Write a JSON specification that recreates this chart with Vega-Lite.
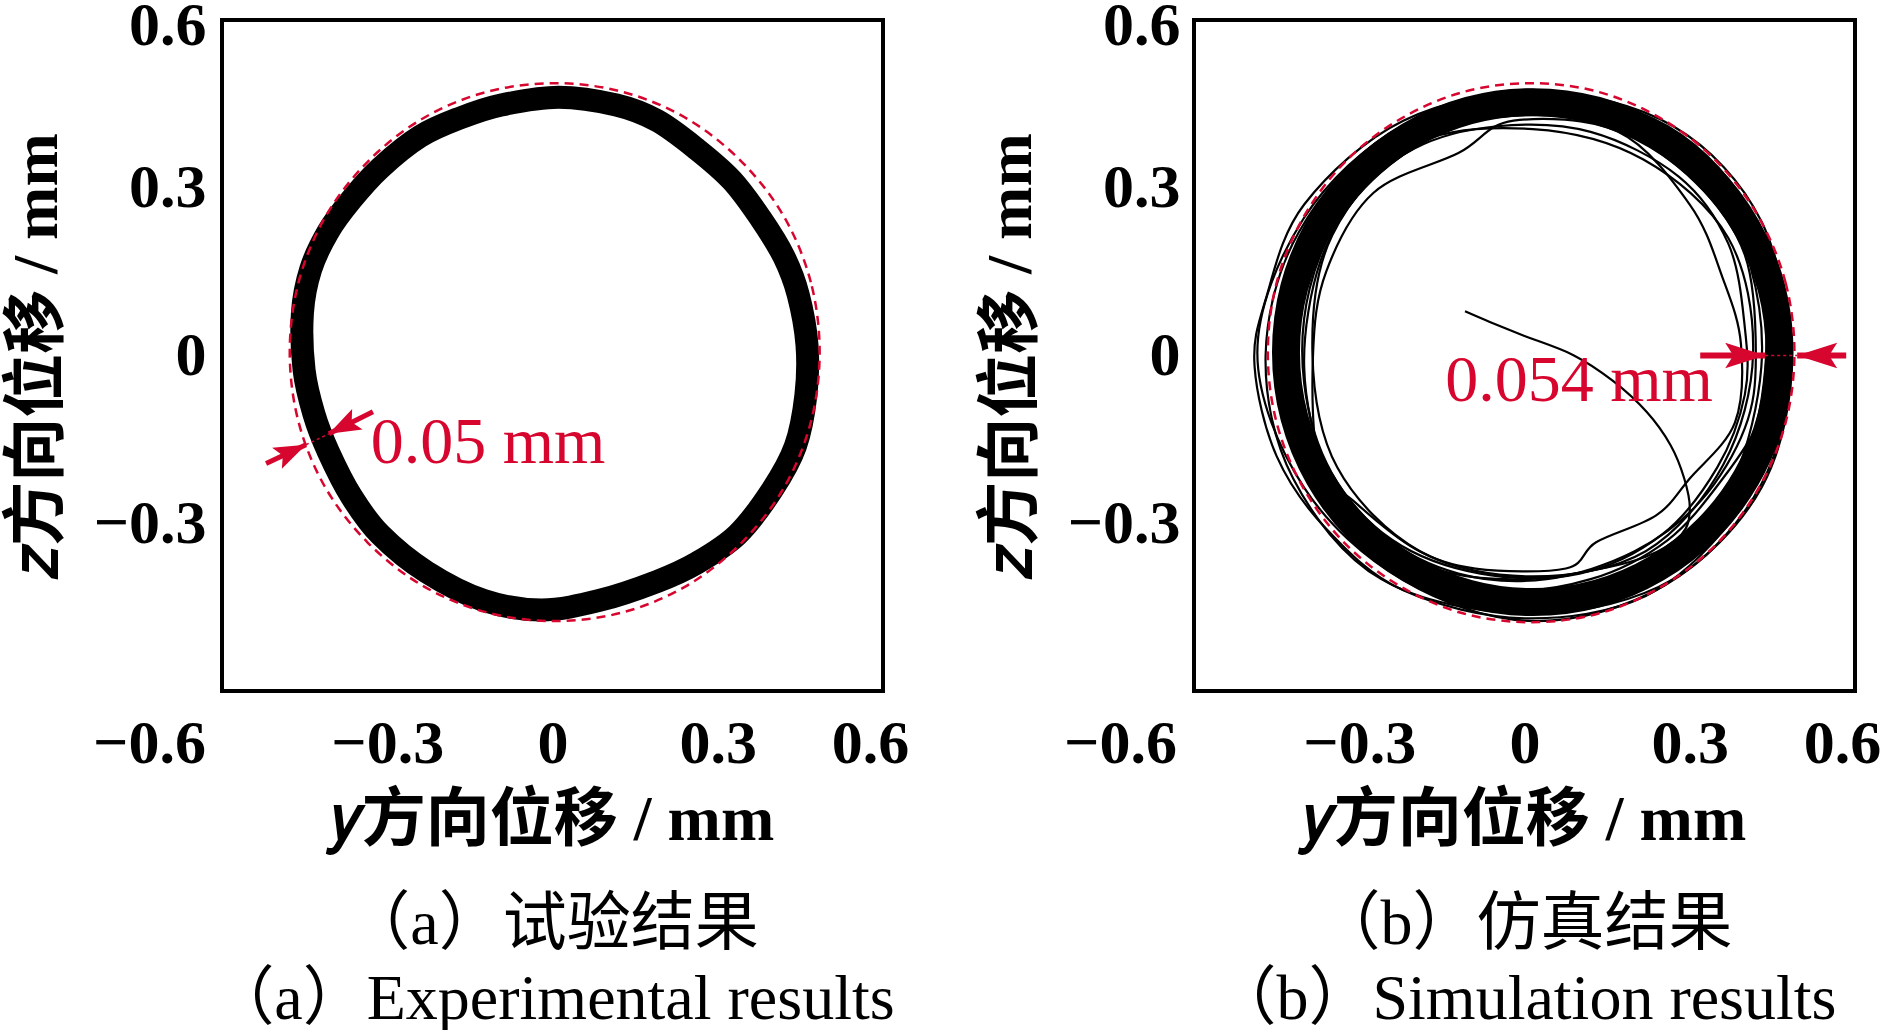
{
  "$schema": "https://vega.github.io/schema/vega-lite/v6.json",
  "background": "white",
  "padding": {"left": 3, "top": -8, "right": 0, "bottom": 0},
  "spacing": 66,
  "config": {
    "font": "Liberation Serif, DejaVu Serif, Noto Sans CJK SC",
    "view": {"stroke": "black", "strokeWidth": 4},
    "axis": {
      "grid": false, "ticks": false, "domain": false, "format": "~g",
      "labelFontSize": 62, "labelFontWeight": "bold", "labelColor": "black",
      "labelFlush": false, "labelOverlap": false,
      "titleFontSize": 64, "titleFontWeight": "bold", "titleColor": "black"
    },
    "title": {"fontSize": 64, "fontWeight": "normal", "color": "black", "lineHeight": 75, "offset": 41, "anchor": "middle", "orient": "bottom"}
  },
  "datasets": {
    "bandA": [
      {"o":1,"x":-0.454,"y":0.076},{"o":2,"x":-0.439,"y":0.154},{"o":3,"x":-0.407,"y":0.222},{"o":4,"x":-0.365,"y":0.279},
      {"o":5,"x":-0.313,"y":0.335},{"o":6,"x":-0.240,"y":0.392},{"o":7,"x":-0.167,"y":0.425},{"o":8,"x":-0.093,"y":0.448},
      {"o":9,"x":0.011,"y":0.462},{"o":10,"x":0.116,"y":0.448},{"o":11,"x":0.190,"y":0.420},{"o":12,"x":0.262,"y":0.369},
      {"o":13,"x":0.326,"y":0.313},{"o":14,"x":0.378,"y":0.245},{"o":15,"x":0.420,"y":0.177},{"o":16,"x":0.446,"y":0.109},
      {"o":17,"x":0.462,"y":0.019},{"o":18,"x":0.460,"y":-0.071},{"o":19,"x":0.441,"y":-0.162},{"o":20,"x":0.399,"y":-0.240},
      {"o":21,"x":0.336,"y":-0.320},{"o":22,"x":0.262,"y":-0.371},{"o":23,"x":0.190,"y":-0.404},{"o":24,"x":0.085,"y":-0.438},
      {"o":25,"x":-0.020,"y":-0.455},{"o":26,"x":-0.125,"y":-0.438},{"o":27,"x":-0.229,"y":-0.387},{"o":28,"x":-0.313,"y":-0.320},
      {"o":29,"x":-0.365,"y":-0.252},{"o":30,"x":-0.407,"y":-0.172},{"o":31,"x":-0.433,"y":-0.105},{"o":32,"x":-0.451,"y":-0.026}
    ],
    "circA": [
      {"o":1,"x":0.485,"y":0.006},{"o":2,"x":0.469,"y":0.131},{"o":3,"x":0.421,"y":0.247},{"o":4,"x":0.344,"y":0.346},
      {"o":5,"x":0.245,"y":0.423},{"o":6,"x":0.129,"y":0.471},{"o":7,"x":0.004,"y":0.487},{"o":8,"x":-0.121,"y":0.471},
      {"o":9,"x":-0.237,"y":0.423},{"o":10,"x":-0.336,"y":0.346},{"o":11,"x":-0.413,"y":0.247},{"o":12,"x":-0.461,"y":0.131},
      {"o":13,"x":-0.477,"y":0.006},{"o":14,"x":-0.461,"y":-0.119},{"o":15,"x":-0.413,"y":-0.235},{"o":16,"x":-0.336,"y":-0.334},
      {"o":17,"x":-0.237,"y":-0.411},{"o":18,"x":-0.121,"y":-0.459},{"o":19,"x":0.004,"y":-0.475},{"o":20,"x":0.129,"y":-0.459},
      {"o":21,"x":0.245,"y":-0.411},{"o":22,"x":0.344,"y":-0.334},{"o":23,"x":0.421,"y":-0.235},{"o":24,"x":0.469,"y":-0.119}
    ],
    "bandB": [
      {"o":1,"x":0.463,"y":0.006},{"o":2,"x":0.448,"y":0.122},{"o":3,"x":0.403,"y":0.230},{"o":4,"x":0.332,"y":0.322},
      {"o":5,"x":0.239,"y":0.393},{"o":6,"x":0.131,"y":0.438},{"o":7,"x":0.015,"y":0.453},{"o":8,"x":-0.101,"y":0.438},
      {"o":9,"x":-0.209,"y":0.393},{"o":10,"x":-0.302,"y":0.322},{"o":11,"x":-0.373,"y":0.230},{"o":12,"x":-0.418,"y":0.122},
      {"o":13,"x":-0.433,"y":0.006},{"o":14,"x":-0.418,"y":-0.110},{"o":15,"x":-0.373,"y":-0.218},{"o":16,"x":-0.302,"y":-0.310},
      {"o":17,"x":-0.209,"y":-0.381},{"o":18,"x":-0.101,"y":-0.426},{"o":19,"x":0.015,"y":-0.441},{"o":20,"x":0.131,"y":-0.426},
      {"o":21,"x":0.239,"y":-0.381},{"o":22,"x":0.332,"y":-0.310},{"o":23,"x":0.403,"y":-0.218},{"o":24,"x":0.448,"y":-0.110}
    ],
    "circB": [
      {"o":1,"x":0.490,"y":0.005},{"o":2,"x":0.474,"y":0.130},{"o":3,"x":0.426,"y":0.246},{"o":4,"x":0.350,"y":0.346},
      {"o":5,"x":0.251,"y":0.422},{"o":6,"x":0.136,"y":0.471},{"o":7,"x":0.012,"y":0.487},{"o":8,"x":-0.112,"y":0.471},
      {"o":9,"x":-0.227,"y":0.422},{"o":10,"x":-0.326,"y":0.346},{"o":11,"x":-0.402,"y":0.246},{"o":12,"x":-0.450,"y":0.130},
      {"o":13,"x":-0.466,"y":0.005},{"o":14,"x":-0.450,"y":-0.120},{"o":15,"x":-0.402,"y":-0.236},{"o":16,"x":-0.326,"y":-0.336},
      {"o":17,"x":-0.227,"y":-0.412},{"o":18,"x":-0.112,"y":-0.461},{"o":19,"x":0.012,"y":-0.477},{"o":20,"x":0.136,"y":-0.461},
      {"o":21,"x":0.251,"y":-0.412},{"o":22,"x":0.350,"y":-0.336},{"o":23,"x":0.426,"y":-0.236},{"o":24,"x":0.474,"y":-0.120}
    ],
    "thinB": [
      {"loop":"A","o":1,"x":0.485,"y":0.005},{"loop":"A","o":2,"x":0.422,"y":0.240},{"loop":"A","o":3,"x":0.245,"y":0.403},{"loop":"A","o":4,"x":0.015,"y":0.475},
      {"loop":"A","o":5,"x":-0.220,"y":0.412},{"loop":"A","o":6,"x":-0.401,"y":0.245},{"loop":"A","o":7,"x":-0.485,"y":0.005},{"loop":"A","o":8,"x":-0.401,"y":-0.235},
      {"loop":"A","o":9,"x":-0.220,"y":-0.402},{"loop":"A","o":10,"x":0.015,"y":-0.475},{"loop":"A","o":11,"x":0.255,"y":-0.411},{"loop":"A","o":12,"x":0.431,"y":-0.235},
      {"loop":"B","o":1,"x":0.415,"y":0.005},{"loop":"B","o":2,"x":0.370,"y":0.210},{"loop":"B","o":3,"x":0.215,"y":0.351},{"loop":"B","o":4,"x":0.015,"y":0.405},
      {"loop":"B","o":5,"x":-0.200,"y":0.377},{"loop":"B","o":6,"x":-0.349,"y":0.215},{"loop":"B","o":7,"x":-0.385,"y":0.005},{"loop":"B","o":8,"x":-0.340,"y":-0.200},
      {"loop":"B","o":9,"x":-0.190,"y":-0.350},{"loop":"B","o":10,"x":0.015,"y":-0.395},{"loop":"B","o":11,"x":0.220,"y":-0.350},{"loop":"B","o":12,"x":0.361,"y":-0.195},
      {"loop":"C","o":1,"x":0.393,"y":0.02},{"loop":"C","o":2,"x":0.36,"y":0.138},{"loop":"C","o":3,"x":0.30,"y":0.27},{"loop":"C","o":4,"x":0.17,"y":0.40},
      {"loop":"C","o":5,"x":-0.02,"y":0.42},{"loop":"C","o":6,"x":-0.12,"y":0.362},{"loop":"C","o":7,"x":-0.274,"y":0.291},{"loop":"C","o":8,"x":-0.36,"y":0.15},
      {"loop":"C","o":9,"x":-0.384,"y":0.0},{"loop":"C","o":10,"x":-0.373,"y":-0.192},{"loop":"C","o":11,"x":-0.307,"y":-0.263},{"loop":"C","o":12,"x":-0.198,"y":-0.346},
      {"loop":"C","o":13,"x":-0.089,"y":-0.381},{"loop":"C","o":14,"x":0.075,"y":-0.381},{"loop":"C","o":15,"x":0.13,"y":-0.334},{"loop":"C","o":16,"x":0.239,"y":-0.286},
      {"loop":"C","o":17,"x":0.30,"y":-0.22},{"loop":"C","o":18,"x":0.382,"y":-0.12},
      {"loop":"D","o":1,"x":0.42,"y":0.0},{"loop":"D","o":2,"x":0.40,"y":0.18},{"loop":"D","o":3,"x":0.31,"y":0.31},{"loop":"D","o":4,"x":0.16,"y":0.41},
      {"loop":"D","o":5,"x":0.0,"y":0.43},{"loop":"D","o":6,"x":-0.15,"y":0.40},{"loop":"D","o":7,"x":-0.29,"y":0.30},{"loop":"D","o":8,"x":-0.37,"y":0.17},
      {"loop":"D","o":9,"x":-0.40,"y":-0.02},{"loop":"D","o":10,"x":-0.36,"y":-0.20},{"loop":"D","o":11,"x":-0.26,"y":-0.32},{"loop":"D","o":12,"x":-0.12,"y":-0.39},
      {"loop":"D","o":13,"x":0.04,"y":-0.40},{"loop":"D","o":14,"x":0.20,"y":-0.35},{"loop":"D","o":15,"x":0.32,"y":-0.26},{"loop":"D","o":16,"x":0.40,"y":-0.13},
      {"loop":"E","o":1,"x":0.44,"y":0.02},{"loop":"E","o":2,"x":0.40,"y":0.23},{"loop":"E","o":3,"x":0.25,"y":0.40},{"loop":"E","o":4,"x":0.0,"y":0.46},
      {"loop":"E","o":5,"x":-0.24,"y":0.40},{"loop":"E","o":6,"x":-0.41,"y":0.22},{"loop":"E","o":7,"x":-0.47,"y":0.0},{"loop":"E","o":8,"x":-0.42,"y":-0.22},
      {"loop":"E","o":9,"x":-0.26,"y":-0.40},{"loop":"E","o":10,"x":0.0,"y":-0.46},{"loop":"E","o":11,"x":0.24,"y":-0.40},{"loop":"E","o":12,"x":0.39,"y":-0.23},
      {"loop":"F","o":1,"x":0.48,"y":-0.01},{"loop":"F","o":2,"x":0.43,"y":0.24},{"loop":"F","o":3,"x":0.27,"y":0.41},{"loop":"F","o":4,"x":0.03,"y":0.47},
      {"loop":"F","o":5,"x":-0.21,"y":0.41},{"loop":"F","o":6,"x":-0.38,"y":0.24},{"loop":"F","o":7,"x":-0.44,"y":0.0},{"loop":"F","o":8,"x":-0.39,"y":-0.23},
      {"loop":"F","o":9,"x":-0.22,"y":-0.40},{"loop":"F","o":10,"x":0.03,"y":-0.46},{"loop":"F","o":11,"x":0.27,"y":-0.40},{"loop":"F","o":12,"x":0.43,"y":-0.23},
      {"loop":"G","o":1,"x":0.45,"y":0.0},{"loop":"G","o":2,"x":0.41,"y":0.22},{"loop":"G","o":3,"x":0.26,"y":0.39},{"loop":"G","o":4,"x":0.02,"y":0.45},
      {"loop":"G","o":5,"x":-0.22,"y":0.40},{"loop":"G","o":6,"x":-0.39,"y":0.23},{"loop":"G","o":7,"x":-0.45,"y":0.01},{"loop":"G","o":8,"x":-0.40,"y":-0.21},
      {"loop":"G","o":9,"x":-0.25,"y":-0.37},{"loop":"G","o":10,"x":-0.05,"y":-0.42},{"loop":"G","o":11,"x":0.12,"y":-0.40},{"loop":"G","o":12,"x":0.26,"y":-0.33},
      {"loop":"G","o":13,"x":0.36,"y":-0.22},{"loop":"G","o":14,"x":0.43,"y":-0.11},
      {"loop":"H","o":1,"x":0.44,"y":0.03},{"loop":"H","o":2,"x":0.42,"y":0.20},{"loop":"H","o":3,"x":0.33,"y":0.33},{"loop":"H","o":4,"x":0.18,"y":0.42},
      {"loop":"H","o":5,"x":0.02,"y":0.44},{"loop":"H","o":6,"x":-0.16,"y":0.41},{"loop":"H","o":7,"x":-0.30,"y":0.32},{"loop":"H","o":8,"x":-0.40,"y":0.18},
      {"loop":"H","o":9,"x":-0.43,"y":0.0},{"loop":"H","o":10,"x":-0.40,"y":-0.17},{"loop":"H","o":11,"x":-0.31,"y":-0.31},{"loop":"H","o":12,"x":-0.16,"y":-0.41},
      {"loop":"H","o":13,"x":0.02,"y":-0.44},{"loop":"H","o":14,"x":0.19,"y":-0.40},{"loop":"H","o":15,"x":0.32,"y":-0.31},{"loop":"H","o":16,"x":0.41,"y":-0.16},
      {"loop":"I","o":1,"x":0.47,"y":0.0},{"loop":"I","o":2,"x":0.42,"y":0.24},{"loop":"I","o":3,"x":0.26,"y":0.41},{"loop":"I","o":4,"x":0.02,"y":0.47},
      {"loop":"I","o":5,"x":-0.22,"y":0.42},{"loop":"I","o":6,"x":-0.40,"y":0.27},{"loop":"I","o":7,"x":-0.47,"y":0.10},{"loop":"I","o":8,"x":-0.49,"y":-0.02},
      {"loop":"I","o":9,"x":-0.45,"y":-0.18},{"loop":"I","o":10,"x":-0.36,"y":-0.31},{"loop":"I","o":11,"x":-0.22,"y":-0.42},{"loop":"I","o":12,"x":0.0,"y":-0.47},
      {"loop":"I","o":13,"x":0.22,"y":-0.43},{"loop":"I","o":14,"x":0.38,"y":-0.29},{"loop":"I","o":15,"x":0.45,"y":-0.14},
      {"loop":"J","o":1,"x":0.40,"y":0.05},{"loop":"J","o":2,"x":0.37,"y":0.20},{"loop":"J","o":3,"x":0.28,"y":0.32},{"loop":"J","o":4,"x":0.12,"y":0.40},
      {"loop":"J","o":5,"x":-0.05,"y":0.41},{"loop":"J","o":6,"x":-0.20,"y":0.37},{"loop":"J","o":7,"x":-0.32,"y":0.27},{"loop":"J","o":8,"x":-0.39,"y":0.12},
      {"loop":"J","o":9,"x":-0.40,"y":-0.05},{"loop":"J","o":10,"x":-0.35,"y":-0.21},{"loop":"J","o":11,"x":-0.24,"y":-0.33},{"loop":"J","o":12,"x":-0.08,"y":-0.39},
      {"loop":"J","o":13,"x":0.10,"y":-0.39},{"loop":"J","o":14,"x":0.25,"y":-0.32},{"loop":"J","o":15,"x":0.35,"y":-0.20},{"loop":"J","o":16,"x":0.40,"y":-0.07},
      {"loop":"K","o":1,"x":0.43,"y":-0.02},{"loop":"K","o":2,"x":0.41,"y":0.16},{"loop":"K","o":3,"x":0.34,"y":0.30},{"loop":"K","o":4,"x":0.20,"y":0.40},
      {"loop":"K","o":5,"x":0.04,"y":0.43},{"loop":"K","o":6,"x":-0.14,"y":0.42},{"loop":"K","o":7,"x":-0.28,"y":0.34},{"loop":"K","o":8,"x":-0.38,"y":0.21},
      {"loop":"K","o":9,"x":-0.42,"y":0.05},{"loop":"K","o":10,"x":-0.41,"y":-0.12},{"loop":"K","o":11,"x":-0.34,"y":-0.27},{"loop":"K","o":12,"x":-0.22,"y":-0.37},
      {"loop":"K","o":13,"x":-0.06,"y":-0.43},{"loop":"K","o":14,"x":0.12,"y":-0.43},{"loop":"K","o":15,"x":0.27,"y":-0.36},{"loop":"K","o":16,"x":0.38,"y":-0.22}
    ],
    "spiralB": [
      {"o":1,"x":-0.108,"y":0.079},{"o":2,"x":-0.063,"y":0.06},{"o":3,"x":0.0,"y":0.035},{"o":4,"x":0.088,"y":0.001},
      {"o":5,"x":0.16,"y":-0.045},{"o":6,"x":0.222,"y":-0.101},{"o":7,"x":0.265,"y":-0.16},{"o":8,"x":0.29,"y":-0.22},
      {"o":9,"x":0.30,"y":-0.275},{"o":10,"x":0.285,"y":-0.32},{"o":11,"x":0.22,"y":-0.36},{"o":12,"x":0.12,"y":-0.385},
      {"o":13,"x":0.0,"y":-0.40},{"o":14,"x":-0.13,"y":-0.39},{"o":15,"x":-0.26,"y":-0.34},{"o":16,"x":-0.36,"y":-0.24},
      {"o":17,"x":-0.41,"y":-0.10},{"o":18,"x":-0.42,"y":0.05}
    ],
    "arrowsA": [
      {"x":-0.4475,"y":-0.1596,"tx":-0.520,"ty":-0.193,"ang":335},
      {"x":-0.406,"y":-0.140,"tx":-0.326,"ty":-0.1007,"ang":153}
    ],
    "arrowsB": [
      {"x":0.437,"y":0.0,"tx":0.319,"ty":0.0,"ang":0},
      {"x":0.495,"y":0.0,"tx":0.584,"ty":0.0,"ang":180}
    ],
    "gapA": [{"x":-0.4475,"y":-0.1596,"x2":-0.406,"y2":-0.140}],
    "gapB": [{"x":0.437,"y":0.0,"x2":0.495,"y2":0.0}],
    "labelA": [{"x":-0.330,"y":-0.193,"t":"0.05 mm"}],
    "labelB": [{"x":-0.144,"y":-0.082,"t":"0.054 mm"}],
    "ticksX": [{"x":-0.3},{"x":0},{"x":0.3}],
    "ticksY": [{"y":-0.3},{"y":0},{"y":0.3}]
  },
  "hconcat": [
    {
      "width": 661,
      "height": 671,
      "title": {"text": ["（a）试验结果", "（a）Experimental results"]},
      "encoding": {
        "x": {"field": "x", "type": "quantitative", "scale": {"domain": [-0.6, 0.6], "nice": false, "zero": false},
          "axis": {"values": [-0.6, -0.3, 0, 0.3, 0.6], "title": "𝑦方向位移 / mm", "labelPadding": 22, "titlePadding": 14,
            "labelOffset": {"condition": [{"test": "datum.value < -0.5", "value": -73}, {"test": "datum.value > 0.5", "value": -13}], "value": 0}}},
        "y": {"field": "y", "type": "quantitative", "scale": {"domain": [-0.6, 0.6], "nice": false, "zero": false},
          "axis": {"values": [-0.3, 0, 0.3, 0.6], "title": "𝑧方向位移 / mm", "labelPadding": 16, "titlePadding": 24,
            "labelOffset": {"condition": {"test": "datum.value > 0.5", "value": 5}, "value": 0}}}
      },
      "layer": [
        {"data": {"name": "bandA"}, "mark": {"type": "line", "interpolate": "cardinal-closed", "strokeWidth": 23, "color": "black"},
          "encoding": {"order": {"field": "o"}}},
        {"data": {"name": "circA"}, "mark": {"type": "line", "interpolate": "cardinal-closed", "strokeWidth": 2.5, "strokeDash": [9, 6], "color": "#d7062e"},
          "encoding": {"order": {"field": "o"}}},
        {"data": {"name": "ticksX"}, "mark": {"type": "rule", "strokeWidth": 4, "color": "black"},
          "encoding": {"y": {"datum": -0.6}, "y2": {"datum": -0.567}}},
        {"data": {"name": "ticksY"}, "mark": {"type": "rule", "strokeWidth": 4, "color": "black"},
          "encoding": {"x": {"datum": -0.6}, "x2": {"datum": -0.567}}},
        {"data": {"name": "gapA"}, "mark": {"type": "rule", "strokeWidth": 1.5, "strokeDash": [3, 3], "color": "#d7062e"},
          "encoding": {"x2": {"field": "x2"}, "y2": {"field": "y2"}}},
        {"data": {"name": "arrowsA"}, "mark": {"type": "rule", "strokeWidth": 5, "color": "#d7062e"},
          "encoding": {"x2": {"field": "tx"}, "y2": {"field": "ty"}}},
        {"data": {"name": "arrowsA"}, "mark": {"type": "point", "shape": "M0,0 L-1,-0.36 L-0.8,0 L-1,0.36 Z", "size": 4096, "filled": true, "opacity": 1, "color": "#d7062e"},
          "encoding": {"angle": {"field": "ang", "type": "quantitative", "scale": null}}},
        {"data": {"name": "labelA"}, "mark": {"type": "text", "align": "left", "baseline": "alphabetic", "fontSize": 66, "color": "#d7062e"},
          "encoding": {"text": {"field": "t"}}}
      ]
    },
    {
      "width": 661,
      "height": 671,
      "title": {"text": ["（b）仿真结果", "（b）Simulation results"]},
      "encoding": {
        "x": {"field": "x", "type": "quantitative", "scale": {"domain": [-0.6, 0.6], "nice": false, "zero": false},
          "axis": {"values": [-0.6, -0.3, 0, 0.3, 0.6], "title": "𝑦方向位移 / mm", "labelPadding": 22, "titlePadding": 14,
            "labelOffset": {"condition": [{"test": "datum.value < -0.5", "value": -74}, {"test": "datum.value > 0.5", "value": -13}], "value": 0}}},
        "y": {"field": "y", "type": "quantitative", "scale": {"domain": [-0.6, 0.6], "nice": false, "zero": false},
          "axis": {"values": [-0.3, 0, 0.3, 0.6], "title": "𝑧方向位移 / mm", "labelPadding": 14, "titlePadding": 24,
            "labelOffset": {"condition": {"test": "datum.value > 0.5", "value": 5}, "value": 0}}}
      },
      "layer": [
        {"data": {"name": "bandB"}, "mark": {"type": "line", "interpolate": "cardinal-closed", "strokeWidth": 28, "color": "black"},
          "encoding": {"order": {"field": "o"}}},
        {"data": {"name": "thinB"}, "mark": {"type": "line", "interpolate": "cardinal-closed", "strokeWidth": 2.2, "color": "black"},
          "encoding": {"detail": {"field": "loop"}, "order": {"field": "o"}}},
        {"data": {"name": "spiralB"}, "mark": {"type": "line", "interpolate": "cardinal", "strokeWidth": 2.2, "color": "black"},
          "encoding": {"order": {"field": "o"}}},
        {"data": {"name": "circB"}, "mark": {"type": "line", "interpolate": "cardinal-closed", "strokeWidth": 2.5, "strokeDash": [9, 6], "color": "#d7062e"},
          "encoding": {"order": {"field": "o"}}},
        {"data": {"name": "ticksX"}, "mark": {"type": "rule", "strokeWidth": 4, "color": "black"},
          "encoding": {"y": {"datum": -0.6}, "y2": {"datum": -0.567}}},
        {"data": {"name": "ticksY"}, "mark": {"type": "rule", "strokeWidth": 4, "color": "black"},
          "encoding": {"x": {"datum": -0.6}, "x2": {"datum": -0.567}}},
        {"data": {"name": "gapB"}, "mark": {"type": "rule", "strokeWidth": 1.5, "strokeDash": [3, 3], "color": "#d7062e"},
          "encoding": {"x2": {"field": "x2"}, "y2": {"field": "y2"}}},
        {"data": {"name": "arrowsB"}, "mark": {"type": "rule", "strokeWidth": 6, "color": "#d7062e"},
          "encoding": {"x2": {"field": "tx"}, "y2": {"field": "ty"}}},
        {"data": {"name": "arrowsB"}, "mark": {"type": "point", "shape": "M0,0 L-1,-0.32 L-0.8,0 L-1,0.32 Z", "size": 6400, "filled": true, "opacity": 1, "color": "#d7062e"},
          "encoding": {"angle": {"field": "ang", "type": "quantitative", "scale": null}}},
        {"data": {"name": "labelB"}, "mark": {"type": "text", "align": "left", "baseline": "alphabetic", "fontSize": 66, "color": "#d7062e"},
          "encoding": {"text": {"field": "t"}}}
      ]
    }
  ]
}
